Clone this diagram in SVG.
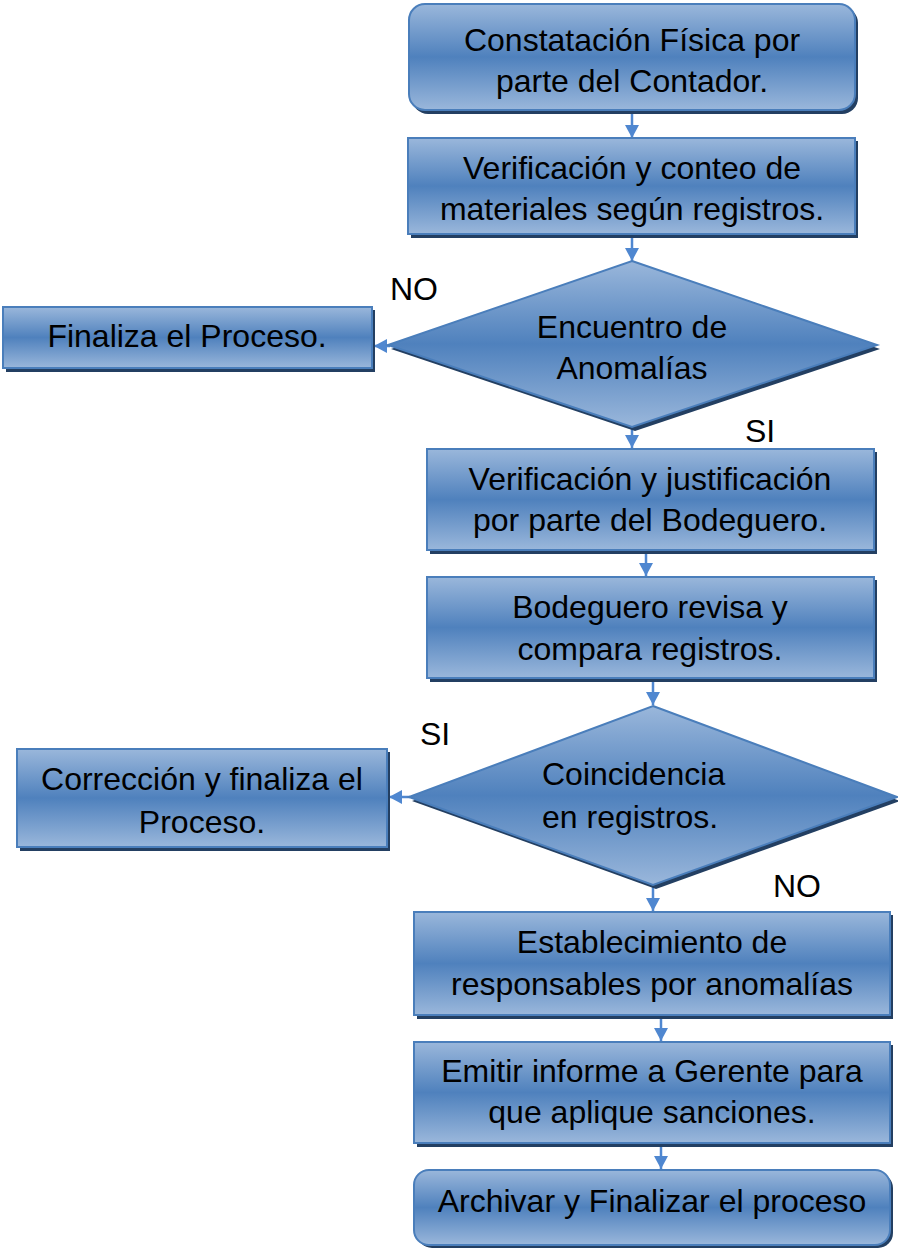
<svg xmlns="http://www.w3.org/2000/svg" width="898" height="1249" viewBox="0 0 898 1249">
<defs>
<linearGradient id="g" x1="0" y1="0" x2="0" y2="1">
<stop offset="0" stop-color="#9ab7db"/>
<stop offset="0.5" stop-color="#4f81bd"/>
<stop offset="1" stop-color="#9ab7db"/>
</linearGradient>
<marker id="ah" markerUnits="userSpaceOnUse" markerWidth="16" markerHeight="14" refX="13" refY="7" orient="auto">
<path d="M0,0 L13,7 L0,14 Z" fill="#4f87d0"/>
</marker>
</defs>
<style>
.sh{fill:#233f62}
.bx{fill:url(#g);stroke:#4a7ebb;stroke-width:2}
.t{font-family:"Liberation Sans",Arial,sans-serif;font-size:32px;fill:#000;text-anchor:middle}
.lb{font-family:"Liberation Sans",Arial,sans-serif;font-size:32px;fill:#000}
.c{stroke:#4f87d0;stroke-width:2.5;fill:none;marker-end:url(#ah)}
</style>
<g id="connectors">
<line class="c" x1="632" y1="111" x2="632" y2="138"/>
<line class="c" x1="632" y1="235" x2="632" y2="261"/>
<line class="c" x1="390" y1="346" x2="374" y2="346"/>
<line class="c" x1="632" y1="428" x2="632" y2="448"/>
<line class="c" x1="646" y1="551" x2="646" y2="576"/>
<line class="c" x1="653" y1="679" x2="653" y2="705"/>
<line class="c" x1="410" y1="797" x2="389" y2="797"/>
<line class="c" x1="653" y1="886" x2="653" y2="911"/>
<line class="c" x1="661" y1="1016" x2="661" y2="1041"/>
<line class="c" x1="661" y1="1144" x2="661" y2="1169"/>
</g>
<g id="n1">
<rect class="sh" x="412" y="7" width="446" height="107" rx="16"/>
<rect class="bx" x="409" y="4" width="446" height="106" rx="16"/>
<text class="t" x="632" y="51">Constatación Física por</text>
<text class="t" x="632" y="92">parte del Contador.</text>
</g>
<g id="n2">
<rect class="sh" x="411" y="141" width="447" height="97"/>
<rect class="bx" x="408" y="138" width="447" height="96"/>
<text class="t" x="632" y="179">Verificación y conteo de</text>
<text class="t" x="632" y="220">materiales según registros.</text>
</g>
<g id="d1">
<polygon class="sh" points="635,265 880,349 635,431 391,349"/>
<polygon class="bx" points="632,261 877,345 632,427 388,345"/>
<text class="t" x="632" y="338">Encuentro de</text>
<text class="t" x="632" y="379">Anomalías</text>
</g>
<g id="n3">
<rect class="sh" x="6" y="310" width="369" height="62"/>
<rect class="bx" x="3" y="307" width="369" height="61"/>
<text class="t" x="187" y="347">Finaliza el Proceso.</text>
</g>
<g id="l1"><text class="lb" x="390" y="300">NO</text></g>
<g id="l2"><text class="lb" x="745" y="442">SI</text></g>
<g id="n4">
<rect class="sh" x="430" y="452" width="447" height="102"/>
<rect class="bx" x="427" y="449" width="447" height="101"/>
<text class="t" x="650" y="490">Verificación y justificación</text>
<text class="t" x="650" y="531">por parte del Bodeguero.</text>
</g>
<g id="n5">
<rect class="sh" x="430" y="580" width="447" height="102"/>
<rect class="bx" x="427" y="577" width="447" height="101"/>
<text class="t" x="650" y="618">Bodeguero revisa y</text>
<text class="t" x="650" y="660">compara registros.</text>
</g>
<g id="d2">
<polygon class="sh" points="656,710 900,801 656,889 412,801"/>
<polygon class="bx" points="653,706 897,797 653,885 409,797"/>
<text class="lb" x="542" y="785">Coincidencia</text>
<text class="lb" x="542" y="828">en registros.</text>
</g>
<g id="n6">
<rect class="sh" x="20" y="752" width="370" height="99"/>
<rect class="bx" x="17" y="749" width="370" height="98"/>
<text class="t" x="202" y="790">Corrección y finaliza el</text>
<text class="t" x="202" y="833">Proceso.</text>
</g>
<g id="l3"><text class="lb" x="420" y="745">SI</text></g>
<g id="l4"><text class="lb" x="773" y="897">NO</text></g>
<g id="n7">
<rect class="sh" x="417" y="915" width="476" height="104"/>
<rect class="bx" x="414" y="912" width="476" height="103"/>
<text class="t" x="652" y="953">Establecimiento de</text>
<text class="t" x="652" y="995">responsables por anomalías</text>
</g>
<g id="n8">
<rect class="sh" x="417" y="1045" width="476" height="102"/>
<rect class="bx" x="414" y="1042" width="476" height="101"/>
<text class="t" x="652" y="1082">Emitir informe a Gerente para</text>
<text class="t" x="652" y="1123">que aplique sanciones.</text>
</g>
<g id="n9">
<rect class="sh" x="417" y="1173" width="476" height="75" rx="15"/>
<rect class="bx" x="414" y="1170" width="476" height="75" rx="15"/>
<text class="t" x="652" y="1212">Archivar y Finalizar el proceso</text>
</g>
</svg>
